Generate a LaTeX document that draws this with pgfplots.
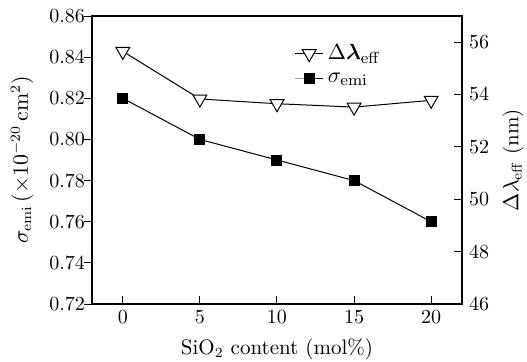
\documentclass[border=0pt]{standalone}
\usepackage{amsmath}
\usepackage{pgfplots}
\pgfplotsset{compat=1.18}
\begin{document}
\fontsize{10}{12}\selectfont
\begin{tikzpicture}
\useasboundingbox (-46pt,-28.5pt) rectangle (217.5pt,152pt);
\begin{axis}[
  at={(0pt,0pt)}, anchor=south west,
  scale only axis, width=185pt, height=144pt,
  xmin=-2, xmax=22, ymin=0.72, ymax=0.86,
  xtick={0,5,10,15,20}, ytick={0.72,0.74,...,0.861},
  xtick pos=bottom, ytick pos=left,
  tick align=inside,
  ytick style={xshift=-4pt},
  major tick length=4pt,
  yticklabel style={/pgf/number format/.cd,fixed,fixed zerofill,precision=2},
  xlabel={SiO$_2$ content (mol\%)},
  ylabel={$\sigma_{\mathrm{emi}}\,(\times10^{-20}\,\mathrm{cm}^2)$},
  xlabel style={at={(axis description cs:0.5,-0.156)}, anchor=center},
  ylabel style={at={(axis description cs:-0.189,0.5)}, anchor=center},
  every axis plot/.append style={line width=0.5pt, black},
  tick style={black, line width=0.5pt},
  axis line style={line width=0.6pt},
  label style={font=\fontsize{10.5}{12}\selectfont},
]
\addplot[mark=square*, mark size=2.5pt] coordinates {(0,0.82) (5,0.80) (10,0.79) (15,0.78) (20,0.76)};
\end{axis}
\begin{axis}[
  at={(0pt,0pt)}, anchor=south west,
  scale only axis, width=185pt, height=144pt,
  xmin=-2, xmax=22, ymin=46, ymax=57,
  hide x axis, axis y line*=right,
  ytick={46,48,...,56},
  tick align=inside,
  major tick length=4pt,
  tick style={black, line width=0.5pt},
  axis line style={line width=0.6pt,-},
  ylabel={$\Delta\lambda_{\mathrm{eff}}$ (nm)},
  ylabel style={at={(axis description cs:1.138,0.5)}, anchor=center},
  label style={font=\fontsize{10.5}{12}\selectfont},
  legend style={draw=none, fill=none, at={(0.53,0.93)}, anchor=north west, font=\fontsize{11}{12}\selectfont, row sep=1pt},
  legend cell align=left,
  legend image code/.code={\draw[mark repeat=2,mark phase=2] plot coordinates {(0cm,0cm) (0.25cm,0cm) (0.5cm,0cm)};},
  every axis plot/.append style={line width=0.5pt, black},
]
\addplot[mark=triangle*, mark size=4pt, mark options={rotate=180, fill=white}] coordinates {(0,55.65) (5,53.83) (10,53.65) (15,53.52) (20,53.78)};
\addlegendentry{$\Delta\boldsymbol{\lambda}_{\mathrm{eff}}$}
\addlegendimage{mark=square*, mark size=2.5pt, line width=0.5pt, black}
\addlegendentry{$\sigma_{\mathrm{emi}}$}
\end{axis}
\end{tikzpicture}
\end{document}
